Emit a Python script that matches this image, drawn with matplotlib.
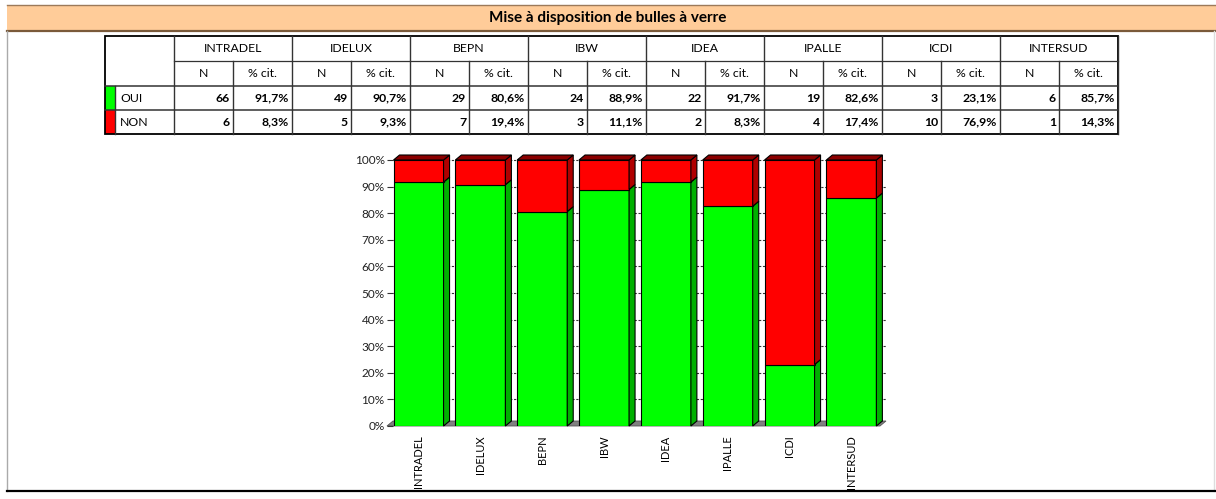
import matplotlib.pyplot as plt
from matplotlib.patches import Rectangle, Polygon

# donnees
groupes = ["INTRADEL", "IDELUX", "BEPN", "IBW", "IDEA", "IPALLE", "ICDI", "INTERSUD"]
oui_n = [66, 49, 29, 24, 22, 19, 3, 6]
oui_pct = [91.7, 90.7, 80.6, 88.9, 91.7, 82.6, 23.1, 85.7]
non_n = [6, 5, 7, 3, 2, 4, 10, 1]
non_pct = [8.3, 9.3, 19.4, 11.1, 8.3, 17.4, 76.9, 14.3]
lignes = ["OUI", "NON"]
sous_titres = ["N", "% cit."]
titre = "Mise à disposition de bulles à verre"
graduations = list(range(0, 101, 10))

VERT = "#00FF00"
ROUGE = "#FF0000"
plt.rcParams['font.family'] = ['Lato', 'DejaVu Sans']

W, H = 1216, 499
fig = plt.figure(figsize=(W / 100, H / 100), dpi=100)
fig.patch.set_facecolor("white")

# fond en pixels
bg = fig.add_axes([0, 0, 1, 1])
bg.set_xlim(0, W)
bg.set_ylim(H, 0)
bg.axis('off')

# bandeau titre
bg.add_patch(Rectangle((7, 5), W - 7, 26, facecolor="#FFCC99", edgecolor="none"))
bg.plot([7, W], [5, 5], color="#9C7A5A", lw=1)
bg.plot([7, W], [31, 31], color="#7A5A3A", lw=1.6)
bg.text(608, 18, titre, ha='center', va='center', fontsize=11, fontweight='bold')
# cadre
bg.plot([7, 7], [31, 491], color="#AAAAAA", lw=1)
bg.plot([1214, 1214], [31, 491], color="#DDDDDD", lw=1)
bg.plot([7, W], [491, 491], color="black", lw=1.6)

def fmt(v):
    return ("%.1f%%" % v).replace(".", ",")

# tableau
t_left, first_w, grp_w, n_w = 105, 69, 118, 59
rows = [36, 61, 86, 110, 134]
t_right = t_left + first_w + grp_w * len(groupes)
x0 = t_left + first_w
fs = 8.8
lc = "#333333"

bg.plot([x0, t_right], [rows[1], rows[1]], color=lc, lw=0.9)
for y in rows[2:4]:
    bg.plot([t_left, t_right], [y, y], color=lc, lw=1.1)
bg.plot([x0, x0], [rows[0], rows[4]], color=lc, lw=1)
for i, g in enumerate(groupes):
    gx = x0 + i * grp_w
    bg.plot([gx + grp_w, gx + grp_w], [rows[0], rows[4]], color=lc, lw=1)
    bg.plot([gx + n_w, gx + n_w], [rows[1], rows[4]], color=lc, lw=1)
    bg.text(gx + grp_w / 2, (rows[0] + rows[1]) / 2, g, ha='center', va='center', fontsize=fs)
    bg.text(gx + n_w / 2, (rows[1] + rows[2]) / 2, sous_titres[0], ha='center', va='center', fontsize=fs)
    bg.text(gx + n_w + (grp_w - n_w) / 2, (rows[1] + rows[2]) / 2, sous_titres[1], ha='center', va='center', fontsize=fs)
    for r, (nn, pp) in enumerate([(oui_n[i], oui_pct[i]), (non_n[i], non_pct[i])]):
        yc = (rows[2 + r] + rows[3 + r]) / 2
        bg.text(gx + n_w - 3, yc, str(nn), ha='right', va='center', fontsize=fs, fontweight='bold')
        bg.text(gx + grp_w - 3, yc, fmt(pp), ha='right', va='center', fontsize=fs, fontweight='bold')

for r, (lab, col) in enumerate(zip(lignes, [VERT, ROUGE])):
    bg.add_patch(Rectangle((t_left, rows[2 + r]), 10, rows[3 + r] - rows[2 + r], facecolor=col, edgecolor='none'))
    bg.text(t_left + 15, (rows[2 + r] + rows[3 + r]) / 2, lab, ha='left', va='center', fontsize=fs)
bg.plot([t_left + 10, t_left + 10], [rows[2], rows[4]], color=lc, lw=1)
bg.add_patch(Rectangle((t_left, rows[0]), t_right - t_left, rows[4] - rows[0],
                       facecolor='none', edgecolor='black', lw=1.3))

# graphique
ax = fig.add_axes([393 / W, (H - 426) / H, 493 / W, 266 / H])
ax.set_facecolor('none')
xl, xr = -0.413, 7.56
ax.set_xlim(xl, xr)
ax.set_ylim(0, 100)
for s in ax.spines.values():
    s.set_visible(False)
dx = 6 / 61.8
dy = 5 / 2.66
bw = 50 / 61.8

ax.add_patch(Polygon([(xl - dx, 0), (xr - dx, 0), (xr, dy), (xl, dy)], closed=True,
                     facecolor="#808080", edgecolor="#555555", lw=0.6, clip_on=False, zorder=1))
for v in graduations[1:]:
    ax.plot([xl, xr], [v, v], color="#333333", lw=0.8, ls=(0, (2, 1.5)), zorder=1, clip_on=False)

def boite(x, y0, y1, face, cote, dessus=None):
    ax.add_patch(Rectangle((x - bw / 2, y0), bw, y1 - y0, facecolor=face, edgecolor='black', lw=0.8, zorder=3))
    xe = x + bw / 2
    ax.add_patch(Polygon([(xe, y0), (xe + dx, y0 + dy), (xe + dx, y1 + dy), (xe, y1)], closed=True,
                         facecolor=cote, edgecolor='black', lw=0.8, zorder=3, clip_on=False))
    if dessus is not None:
        xs = x - bw / 2
        ax.add_patch(Polygon([(xs, y1), (xs + dx, y1 + dy), (xe + dx, y1 + dy), (xe, y1)], closed=True,
                             facecolor=dessus, edgecolor='black', lw=0.8, zorder=3, clip_on=False))

for i in range(len(groupes)):
    boite(i, 0, oui_pct[i], VERT, "#00B000")
    boite(i, oui_pct[i], oui_pct[i] + non_pct[i], ROUGE, "#B00000", "#8B0000")

ax.set_yticks(graduations)
ax.set_yticklabels(["%d%%" % v for v in graduations], fontsize=8.5, color="#222222")
ax.tick_params(axis='y', length=4, width=0.8, color="#333333", pad=2)
ax.set_xticks(range(len(groupes)))
ax.set_xticklabels(groupes, rotation=90, fontsize=8, va='top')
ax.tick_params(axis='x', length=0, pad=7)

fig.savefig("out.png", dpi=100)
